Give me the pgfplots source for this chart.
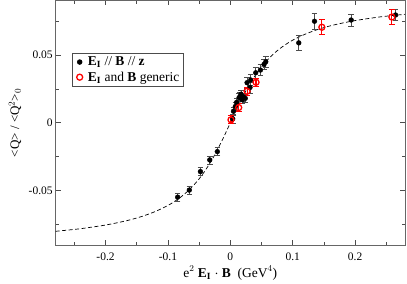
\documentclass[border=0pt]{standalone}
\usepackage{pgfplots}
\pgfplotsset{compat=1.18}
\usepackage{fontspec}
\setmainfont{Liberation Serif}
\begin{document}
\begin{tikzpicture}
\begin{axis}[
  scale only axis,
  width=349.3pt, height=244.7pt,
  xmin=-0.28, xmax=0.28, ymin=-0.09, ymax=0.09,
  xtick={-0.2,-0.1,0,0.1,0.2},
  ytick={-0.05,0,0.05},
  minor xtick={-0.25,-0.15,-0.05,0.05,0.15,0.25},
  minor ytick={-0.075,-0.025,0.025,0.075},
  scaled ticks=false,
  tick align=inside,
  major tick length=5pt, minor tick length=3.5pt,
  every tick/.style={black!70, line width=0.6pt},
  axis line style={black!60, line width=0.9pt},
  /pgf/number format/assume math mode=true,
  /pgf/number format/fixed,
  /pgf/number format/precision=3,
  ticklabel style={font=\fontsize{11.5}{13}\selectfont},
  xticklabel style={yshift=-4pt},
  yticklabel style={xshift=0.5pt},
  xlabel={e$^{2}$ \textbf{E}\textsubscript{\textbf{I}} \textbf{$\cdot$} \textbf{B}\ \ (GeV$^{4}$)},
  ylabel={<Q> / <Q$^{2}$>$_{0}$},
  xlabel style={font=\fontsize{13.5}{15}\selectfont, at={(axis description cs:0.5,-0.1144)}, anchor=center},
  ylabel style={font=\fontsize{13}{15}\selectfont, at={(axis description cs:-0.1165,0.5)}, anchor=center},
  legend style={at={(0.0458,0.785)}, anchor=north west, draw=black!70, line width=0.6pt,
    font=\fontsize{13.5}{15}\selectfont, inner xsep=2pt, inner ysep=1.5pt, row sep=0.5pt},
  legend cell align=left,
  legend image code/.code={\path[draw=none] (0cm,0cm) -- (0.42cm,0cm); \draw[#1] plot[only marks] coordinates {(0.2cm,0cm)};},
]
\coordinate (bl) at (rel axis cs:0,0);
\addplot[black, dash pattern=on 4pt off 2.5pt, line width=0.7pt, forget plot, smooth] coordinates {
(-0.28,-0.0798) (-0.26,-0.0789) (-0.24,-0.0779) (-0.22,-0.0766) (-0.20,-0.0752)
(-0.18,-0.0734) (-0.16,-0.0713) (-0.14,-0.0686) (-0.12,-0.0652) (-0.10,-0.0608)
(-0.09,-0.0580) (-0.08,-0.0548) (-0.07,-0.0510) (-0.06,-0.0465) (-0.05,-0.0412)
(-0.04,-0.0349) (-0.03,-0.0276) (-0.02,-0.0192) (-0.01,-0.0099) (0,0)
(0.01,0.0099) (0.02,0.0192) (0.03,0.0276) (0.04,0.0349) (0.05,0.0412)
(0.06,0.0465) (0.07,0.0510) (0.08,0.0548) (0.09,0.0580) (0.10,0.0608)
(0.12,0.0652) (0.14,0.0686) (0.16,0.0713) (0.18,0.0734) (0.20,0.0752)
(0.22,0.0766) (0.24,0.0779) (0.26,0.0789) (0.28,0.0798)
};
\addplot[only marks, mark=*, mark size=2.4pt, mark options={fill=black, draw=black},
  error bars/.cd, y dir=both, y explicit,
  error bar style={black!70, line width=0.6pt},
  error mark options={rotate=90, mark size=2.8pt, black!70, line width=0.6pt}]
table[x=x, y=y, y error=e] {
x y e
-0.0845 -0.0547 0.003
-0.0658 -0.0495 0.003
-0.048 -0.0359 0.003
-0.033 -0.0273 0.003
-0.0209 -0.0212 0.003
0.0038 0.0029 0.003
0.005 0.0085 0.003
0.008 0.012 0.003
0.010 0.015 0.003
0.014 0.0185 0.003
0.0156 0.0193 0.003
0.017 0.021 0.003
0.019 0.017 0.003
0.021 0.019 0.003
0.024 0.018 0.003
0.0268 0.0295 0.004
0.0316 0.026 0.004
0.0326 0.0315 0.004
0.0407 0.0368 0.004
0.0482 0.0388 0.004
0.054 0.043 0.004
0.0568 0.0449 0.004
0.1097 0.0588 0.0057
0.1349 0.0747 0.0059
0.1937 0.0756 0.0044
0.2649 0.0793 0.004
};
\addlegendentry{\textbf{E}\textsubscript{\textbf{I}} // \textbf{B} // \textbf{z}}
\addplot[only marks, mark=o, mark size=3pt, mark options={draw=red, line width=1.3pt},
  error bars/.cd, y dir=both, y explicit,
  error bar style={red, line width=1.1pt},
  error mark options={rotate=90, mark size=3pt, red, line width=1.1pt}]
table[x=x, y=y, y error=e] {
x y e
0.001 0.0022 0.003
0.0134 0.0112 0.003
0.0268 0.0232 0.003
0.0412 0.0298 0.003
0.1467 0.0703 0.0056
0.259 0.0778 0.0056
};
\addlegendentry{\textbf{E}\textsubscript{\textbf{I}} and \textbf{B} generic}
\end{axis}
\path (bl) ++(-55.7pt,-38pt) rectangle ++(407pt,283pt);
\end{tikzpicture}
\end{document}
